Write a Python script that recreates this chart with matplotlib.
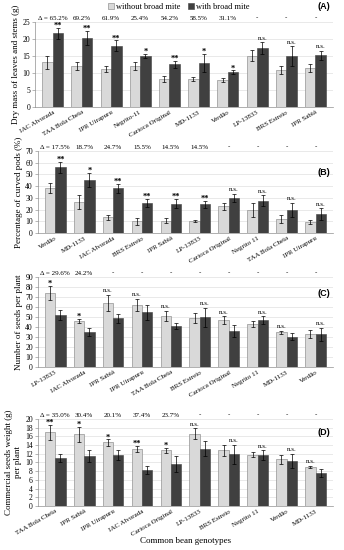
import numpy as np
import matplotlib.pyplot as plt

plt.rcParams['font.family'] = ['Liberation Serif', 'DejaVu Serif']

# Panel A - dry mass of leaves and stems
cats_a = ["IAC Alvorada", "TAA Bola Cheia", "IPR Uirapuru", "Negrito-11", "Carioca Original",
          "MD-1133", "Verdão", "LP-13833", "BRS Estreio", "IPR Sabiá"]
wo_a = [13.1, 12.0, 11.2, 12.0, 8.2, 8.2, 7.9, 15.1, 10.9, 11.4]
wo_err_a = [1.8, 1.1, 1.0, 1.1, 0.8, 0.7, 0.6, 1.6, 1.3, 1.2]
wi_a = [21.7, 20.2, 18.0, 15.0, 12.5, 13.0, 10.3, 17.3, 14.9, 15.2]
wi_err_a = [1.6, 2.1, 1.6, 0.6, 1.1, 2.6, 0.5, 1.7, 2.9, 1.4]
sig_a = ["**", "**", "**", "*", "**", "*", "*", "n.s.", "n.s.", "n.s."]
delta_a = ["Δ = 65.2%", "69.2%", "61.9%", "25.4%", "54.2%", "58.5%", "31.1%", "-", "-", "-"]

# Panel B - curved pods
cats_b = ["Verdão", "MD-1133", "IAC Alvorada", "BRS Estreio", "IPR Sabiá", "LP-13833",
          "Carioca Original", "Negrito 11", "TAA Bola Cheia", "IPR Uirapuru"]
wo_b = [38.5, 26.5, 13.5, 10.0, 10.5, 10.5, 23.0, 20.0, 12.0, 9.5]
wo_err_b = [4.5, 6.0, 2.0, 3.0, 2.0, 1.0, 3.0, 6.0, 3.5, 2.0]
wi_b = [56.0, 45.5, 38.0, 25.5, 25.0, 24.5, 30.0, 27.5, 20.0, 16.0]
wi_err_b = [5.0, 6.0, 4.0, 3.5, 4.0, 3.0, 3.5, 4.5, 6.0, 5.0]
sig_b = ["**", "*", "**", "**", "**", "**", "n.s.", "n.s.", "n.s.", "n.s."]
delta_b = ["Δ = 17.5%", "18.7%", "24.7%", "15.5%", "14.5%", "14.5%", "-", "-", "-", "-"]

# Panel C - seeds per plant
cats_c = ["LP-13833", "IAC Alvorada", "IPR Sabiá", "IPR Uirapuru", "TAA Bola Cheia",
          "BRS Estreio", "Carioca Original", "Negrito 11", "MD-1133", "Verdão"]
wo_c = [74.5, 46.0, 64.5, 62.5, 51.5, 49.0, 47.0, 43.0, 35.0, 33.5]
wo_err_c = [7.0, 2.0, 8.0, 6.0, 5.0, 5.0, 4.0, 3.0, 1.5, 4.0]
wi_c = [52.0, 35.0, 49.0, 55.0, 41.5, 50.0, 36.0, 47.0, 30.5, 33.0]
wi_err_c = [5.0, 4.0, 4.5, 7.5, 3.0, 9.5, 6.0, 4.0, 3.5, 6.5]
sig_c = ["*", "*", "n.s.", "n.s.", "n.s.", "n.s.", "n.s.", "n.s.", "n.s.", "n.s."]
delta_c = ["Δ = 29.6%", "24.2%", "-", "-", "-", "-", "-", "-", "-", "-"]

# Panel D - commercial seeds weight
cats_d = ["TAA Bola Cheia", "IPR Sabiá", "IPR Uirapuru", "IAC Alvorada", "Carioca Original",
          "LP-13833", "BRS Estreio", "Negrito 11", "Verdão", "MD-1133"]
wo_d = [16.9, 16.5, 14.6, 13.1, 12.8, 16.6, 12.8, 11.8, 10.7, 9.0]
wo_err_d = [1.8, 1.7, 0.7, 0.8, 0.6, 1.3, 1.3, 0.6, 1.0, 0.3]
wi_d = [11.0, 11.5, 11.7, 8.3, 9.7, 13.2, 11.9, 11.7, 10.4, 7.6]
wi_err_d = [0.9, 1.3, 1.1, 0.9, 1.9, 1.7, 2.2, 1.1, 1.6, 0.9]
sig_d = ["**", "*", "*", "**", "*", "n.s.", "n.s.", "n.s.", "n.s.", "n.s."]
delta_d = ["Δ = 35.0%", "30.4%", "20.1%", "37.4%", "23.7%", "-", "-", "-", "-", "-"]

LIGHT = "#d9d9d9"
DARK = "#404040"
W = 0.36


def panel(ax, cats, wo, wo_err, wi, wi_err, sig, delta, ymax, step, ylabel, tag, tag_pos):
    x = np.arange(len(cats))
    ekw = dict(elinewidth=0.5, capthick=0.5, ecolor="black")
    ax.bar(x - W / 2, wo, W, color=LIGHT, edgecolor="#7f7f7f", linewidth=0.4,
           yerr=wo_err, capsize=1.5, error_kw=ekw, zorder=2, label="without broad mite")
    ax.bar(x + W / 2, wi, W, color=DARK, edgecolor=DARK, linewidth=0.4,
           yerr=wi_err, capsize=1.5, error_kw=ekw, zorder=2, label="with broad mite")
    for i in range(len(cats)):
        top_wo = wo[i] + wo_err[i]
        top_wi = wi[i] + wi_err[i]
        if top_wi >= top_wo:
            xs, ys = x[i] + W / 2, top_wi
        else:
            xs, ys = x[i] - W / 2, top_wo
        if sig[i] == "n.s.":
            ax.annotate(sig[i], (xs, ys), xytext=(0, 1), textcoords="offset points",
                        ha="center", va="bottom", fontsize=5)
        else:
            ax.annotate(sig[i], (xs, ys), xytext=(0, -1.5), textcoords="offset points",
                        ha="center", va="bottom", fontsize=6, fontweight="bold")
        ax.annotate(delta[i], (x[i], 1.0), xycoords=("data", "axes fraction"),
                    xytext=(0, 1), textcoords="offset points",
                    ha="center", va="bottom", fontsize=5)
    ax.set_xlim(-0.6, len(cats) - 0.4)
    ax.set_ylim(0, ymax)
    ax.set_yticks(np.arange(0, ymax + step / 2, step))
    ax.set_xticks(x)
    ax.set_xticklabels(cats, rotation=30, ha="right", rotation_mode="anchor", fontsize=5)
    ax.tick_params(axis="y", labelsize=5.5, length=2, width=0.4, pad=1.5, color="#7f7f7f")
    ax.tick_params(axis="x", length=0, pad=2)
    ax.set_ylabel(ylabel, fontsize=6.5, labelpad=2)
    ax.grid(axis="y", color="#d9d9d9", linewidth=0.4, zorder=0)
    ax.set_axisbelow(True)
    for s in ["top", "right"]:
        ax.spines[s].set_visible(False)
    for s in ["left", "bottom"]:
        ax.spines[s].set_color("#8f8f8f")
        ax.spines[s].set_linewidth(0.5)
    ax.text(tag_pos[0], tag_pos[1], tag, transform=ax.transAxes, fontsize=6.5,
            fontweight="bold", family="Liberation Sans", ha="right", va="center")


fig = plt.figure(figsize=(3.44, 5.5), dpi=100)
ax_a = fig.add_axes([0.102, 0.8055, 0.866, 0.1545])
ax_b = fig.add_axes([0.110, 0.5764, 0.858, 0.1491])
ax_c = fig.add_axes([0.110, 0.3327, 0.858, 0.1636])
ax_d = fig.add_axes([0.110, 0.0800, 0.858, 0.1582])

panel(ax_a, cats_a, wo_a, wo_err_a, wi_a, wi_err_a, sig_a, delta_a, 25, 5,
      "Dry mass of leaves and stems (g)", "(A)", (0.99, 1.18))
panel(ax_b, cats_b, wo_b, wo_err_b, wi_b, wi_err_b, sig_b, delta_b, 70, 10,
      "Percentage of curved pods (%)", "(B)", (0.99, 0.74))
panel(ax_c, cats_c, wo_c, wo_err_c, wi_c, wi_err_c, sig_c, delta_c, 90, 10,
      "Number of seeds per plant", "(C)", (0.99, 0.82))
panel(ax_d, cats_d, wo_d, wo_err_d, wi_d, wi_err_d, sig_d, delta_d, 20, 2,
      "Commercial seeds weight (g)\nper plant", "(D)", (0.99, 0.84))
ax_d.set_xlabel("Common bean genotypes", fontsize=6.5, labelpad=0)

handles, labels = ax_a.get_legend_handles_labels()
fig.legend(handles, labels, loc="center", bbox_to_anchor=(0.52, 0.988), ncol=2, frameon=False,
           fontsize=6, handlelength=0.7, handleheight=0.7, handletextpad=0.2, columnspacing=1.0)

fig.savefig("out.png", dpi=100)
